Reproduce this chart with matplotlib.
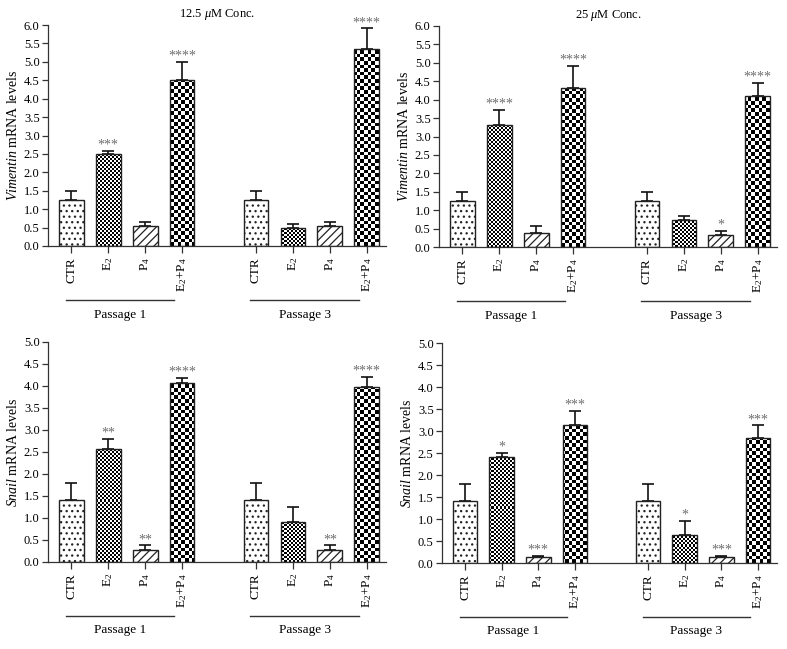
import numpy as np
import matplotlib
matplotlib.use("Agg")
import matplotlib.pyplot as plt
from matplotlib.ticker import MultipleLocator, FormatStrFormatter

plt.rcParams['font.family'] = ['Liberation Serif', 'DejaVu Serif']
plt.rcParams['mathtext.fontset'] = 'custom'
plt.rcParams['mathtext.rm'] = 'Liberation Serif'
plt.rcParams['mathtext.it'] = 'Liberation Serif:italic'
plt.rcParams['hatch.color'] = '#222222'
plt.rcParams['hatch.linewidth'] = 0.9

categories = ["CTR", "E$_2$", "P$_4$", "E$_2$+P$_4$"]
passages = ["Passage 1", "Passage 3"]
titles = ["12.5 $\\mathit{\\mu}$M Conc.", "25 $\\mathit{\\mu}$M Conc."]
genes = ["Vimentin", "Snail"]

# Vimentin, 12.5 uM
vim12_p1 = [1.24, 2.49, 0.53, 4.51]
vim12_p1_err = [0.24, 0.10, 0.11, 0.49]
vim12_p3 = [1.24, 0.50, 0.53, 5.34]
vim12_p3_err = [0.24, 0.09, 0.11, 0.57]
vim12_stars_p1 = ["", "***", "", "****"]
vim12_stars_p3 = ["", "", "", "****"]

# Vimentin, 25 uM
vim25_p1 = [1.25, 3.30, 0.37, 4.33]
vim25_p1_err = [0.23, 0.43, 0.21, 0.58]
vim25_p3 = [1.25, 0.73, 0.32, 4.10]
vim25_p3_err = [0.23, 0.12, 0.12, 0.36]
vim25_stars_p1 = ["", "****", "", "****"]
vim25_stars_p3 = ["", "", "*", "****"]

# Snail, 12.5 uM
sna12_p1 = [1.42, 2.57, 0.28, 4.07]
sna12_p1_err = [0.38, 0.23, 0.10, 0.11]
sna12_p3 = [1.42, 0.90, 0.28, 3.97]
sna12_p3_err = [0.38, 0.35, 0.10, 0.24]
sna12_stars_p1 = ["", "**", "**", "****"]
sna12_stars_p3 = ["", "", "**", "****"]

# Snail, 25 uM
sna25_p1 = [1.42, 2.41, 0.13, 3.14]
sna25_p1_err = [0.38, 0.10, 0.03, 0.32]
sna25_p3 = [1.42, 0.64, 0.13, 2.84]
sna25_p3_err = [0.38, 0.32, 0.03, 0.29]
sna25_stars_p1 = ["", "*", "***", "***"]
sna25_stars_p3 = ["", "*", "***", "***"]

panels = [
    dict(gene="Vimentin", title=titles[0], ymax=6.0,
         p1=vim12_p1, e1=vim12_p1_err, p3=vim12_p3, e3=vim12_p3_err,
         s1=vim12_stars_p1, s3=vim12_stars_p3,
         rect=[48/787, 1-246/649, 338/787, 221/649]),
    dict(gene="Vimentin", title=titles[1], ymax=6.0,
         p1=vim25_p1, e1=vim25_p1_err, p3=vim25_p3, e3=vim25_p3_err,
         s1=vim25_stars_p1, s3=vim25_stars_p3,
         rect=[439/787, 1-247/649, 338/787, 221/649]),
    dict(gene="Snail", title=None, ymax=5.0,
         p1=sna12_p1, e1=sna12_p1_err, p3=sna12_p3, e3=sna12_p3_err,
         s1=sna12_stars_p1, s3=sna12_stars_p3,
         rect=[48/787, 1-562/649, 338/787, 220/649]),
    dict(gene="Snail", title=None, ymax=5.0,
         p1=sna25_p1, e1=sna25_p1_err, p3=sna25_p3, e3=sna25_p3_err,
         s1=sna25_stars_p1, s3=sna25_stars_p3,
         rect=[442/787, 1-563/649, 335/787, 220/649]),
]

fig = plt.figure(figsize=(7.87, 6.49), dpi=100)

group_pos = [np.arange(4), np.arange(4) + 5]
width = 0.67
edge = '#222222'
hatches = ['...', None, '////', None]
checker_px = [None, 2.0, None, 3.6]


def add_checker(ax, bar, cell_px):
    bbox = ax.get_position()
    wpx = bbox.width * fig.get_figwidth() * fig.dpi
    hpx = bbox.height * fig.get_figheight() * fig.dpi
    nx = int(round(wpx / cell_px))
    ny = int(round(hpx / cell_px))
    yy, xx = np.mgrid[0:ny, 0:nx]
    img = ((xx + yy) % 2).astype(float)
    im = ax.imshow(img, cmap='gray', vmin=0, vmax=1, extent=[0, 1, 0, 1],
                   transform=ax.transAxes, interpolation='nearest',
                   aspect='auto', origin='lower', zorder=1.5)
    im.set_clip_path(bar)


for p in panels:
    ax = fig.add_axes(p['rect'])
    ax.set_xlim(-0.63, 8.52)
    ax.set_ylim(0, p['ymax'])
    for gi, (vals, errs, stars) in enumerate([(p['p1'], p['e1'], p['s1']),
                                              (p['p3'], p['e3'], p['s3'])]):
        pos = group_pos[gi]
        ax.errorbar(pos, vals, yerr=[np.zeros(4), errs], fmt='none',
                    ecolor='#111111', elinewidth=1.2, capsize=4.6,
                    capthick=1.2, zorder=1)
        bars = ax.bar(pos, vals, width=width, color='white', edgecolor=edge,
                      linewidth=1.0, zorder=2)
        for k, b in enumerate(bars):
            if hatches[k]:
                b.set_hatch(hatches[k])
            if checker_px[k]:
                b.set_facecolor('none')
                add_checker(ax, b, checker_px[k])
        for k in range(4):
            if stars[k]:
                ax.text(pos[k], vals[k] + errs[k] - 0.02, stars[k],
                        ha='center', va='bottom', fontsize=10,
                        color='#6e6e6e')
        # passage line and label
        x0, x1 = pos[0] - 0.15, pos[3] - 0.22
        ax.plot([x0, x1], [-0.245, -0.245], color='#333333', lw=1.0,
                transform=ax.get_xaxis_transform(), clip_on=False)
        ax.text((x0 + x1) / 2, -0.31, passages[gi], ha='center', va='center',
                fontsize=9.5, transform=ax.get_xaxis_transform())

    allpos = np.concatenate(group_pos)
    ax.set_xticks(allpos)
    ax.set_xticklabels(categories * 2, rotation=90, fontsize=9.5)
    ax.yaxis.set_major_locator(MultipleLocator(0.5))
    ax.yaxis.set_major_formatter(FormatStrFormatter('%.1f'))
    ax.tick_params(axis='y', labelsize=9, length=4, width=0.9, pad=2,
                   color='#333333')
    ax.tick_params(axis='x', length=5, width=0.9, pad=3, color='#333333')
    for s in ['top', 'right']:
        ax.spines[s].set_visible(False)
    for s in ['left', 'bottom']:
        ax.spines[s].set_color('#333333')
        ax.spines[s].set_linewidth(0.9)
    ax.set_ylabel("$\\mathit{%s}$ mRNA levels" % p['gene'], fontsize=10,
                  labelpad=3)
    if p['title']:
        ax.set_title(p['title'], fontsize=9, pad=6)

fig.savefig("out.png", dpi=100)
